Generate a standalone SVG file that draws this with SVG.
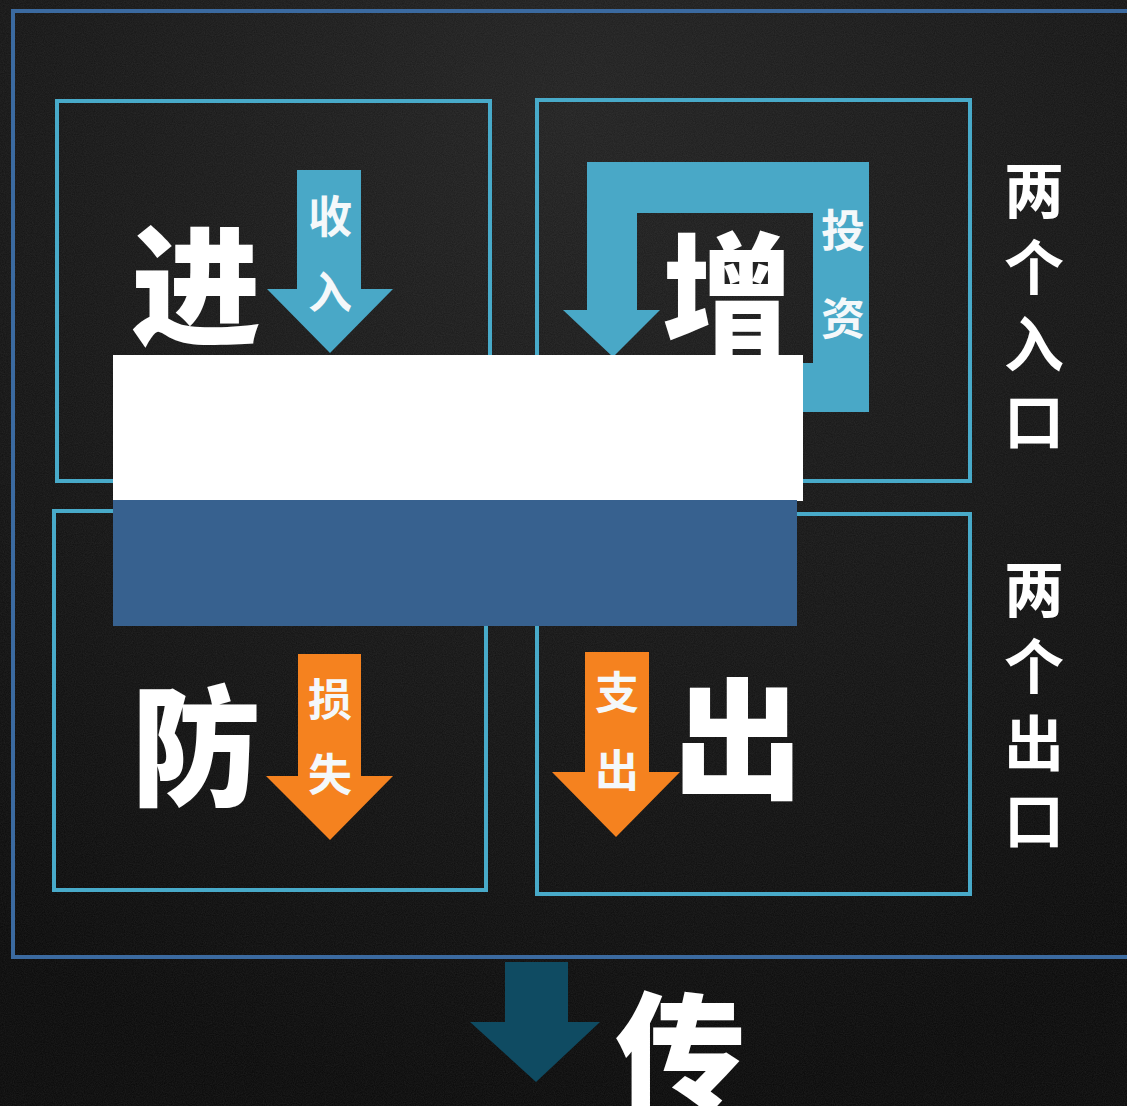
<svg xmlns="http://www.w3.org/2000/svg" width="1127" height="1106" viewBox="0 0 1127 1106">
  <defs>
    <radialGradient id="bg" cx="0.5" cy="0.1" r="0.9">
      <stop offset="0" stop-color="#202020"/>
      <stop offset="0.6" stop-color="#121212"/>
      <stop offset="1" stop-color="#080808"/>
    </radialGradient>
    <filter id="noise" x="0" y="0" width="100%" height="100%">
      <feTurbulence type="fractalNoise" baseFrequency="0.9" numOctaves="2" seed="3" result="n"/>
      <feColorMatrix in="n" type="matrix" values="0 0 0 0 0.5  0 0 0 0 0.5  0 0 0 0 0.5  0 0 0 0.12 0"/>
    </filter>
    <style>
      .box { fill: none; stroke: #48aac9; stroke-width: 4; }
      .big { font-family: "Noto Sans CJK SC", "Noto Sans", sans-serif; font-weight: 900; font-size: 130px; fill: #ffffff; text-anchor: middle; dominant-baseline: central; }
      .lbl { font-family: "Noto Sans CJK SC", "Noto Sans", sans-serif; font-weight: 700; font-size: 44px; fill: #f4f8fa; text-anchor: middle; dominant-baseline: central; }
      .side { font-family: "Noto Sans CJK SC", "Noto Sans", sans-serif; font-weight: 700; font-size: 60px; fill: #ffffff; writing-mode: vertical-rl; letter-spacing: 17px; }
      .blue { fill: #49a8c7; }
      .orange { fill: #f5821f; }
      .teal { fill: #0f4b62; }
    </style>
  </defs>

  <rect x="0" y="0" width="1127" height="1106" fill="url(#bg)"/>
  <rect x="0" y="0" width="1127" height="1106" filter="url(#noise)"/>

  <g id="outer-frame">
    <rect x="13" y="11" width="1130" height="946" fill="none" stroke="#3b6aa0" stroke-width="4"/>
  </g>

  <g id="node-jin">
    <rect class="box" x="57" y="101" width="433" height="380"/>
    <text class="big" x="196" y="277">进</text>
  </g>
  <g id="node-zeng">
    <rect class="box" x="537" y="100" width="433" height="381"/>
    <text class="big" x="727" y="285">增</text>
  </g>
  <g id="node-fang">
    <rect class="box" x="54" y="511" width="432" height="379"/>
    <text class="big" x="196" y="738">防</text>
  </g>
  <g id="node-chu">
    <rect class="box" x="537" y="514" width="433" height="380"/>
    <text class="big" x="738" y="731">出</text>
  </g>

  <g id="connectors">
    <g id="arrow-shouru">
      <polygon class="blue" points="297,170 361,170 361,289 393,289 330,353 267,289 297,289"/>
      <text class="lbl" x="330" y="214">收</text>
      <text class="lbl" x="330" y="290">入</text>
    </g>
    <g id="arrow-touzi">
      <polygon class="blue" points="869,412 869,162 587,162 587,310 563,310 613,357 660,310 637,310 637,213 813,213 813,363 790,363 790,412"/>
      <text class="lbl" x="843" y="228">投</text>
      <text class="lbl" x="843" y="316">资</text>
    </g>
    <g id="arrow-sunshi">
      <polygon class="orange" points="298,654 361,654 361,776 393,776 330,840 266,776 298,776"/>
      <text class="lbl" x="330" y="697">损</text>
      <text class="lbl" x="330" y="772">失</text>
    </g>
    <g id="arrow-zhichu">
      <polygon class="orange" points="585,652 649,652 649,772 680,772 616,837 552,772 585,772"/>
      <text class="lbl" x="617" y="690">支</text>
      <text class="lbl" x="617" y="768">出</text>
    </g>
    <g id="arrow-chuan">
      <polygon class="teal" points="505,962 568,962 568,1022 600,1022 536,1082 470,1022 505,1022"/>
    </g>
  </g>

  <g id="band">
    <rect x="113" y="355" width="690" height="146" fill="#ffffff"/>
    <rect x="113" y="500" width="684" height="126" fill="#37618f"/>
  </g>

  <g id="side-inputs">
    <text class="side" x="1034" y="160">两个入口</text>
  </g>
  <g id="side-outputs">
    <text class="side" x="1034" y="559">两个出口</text>
  </g>

  <g id="node-chuan">
    <text class="big" x="680" y="1044">传</text>
  </g>
</svg>
